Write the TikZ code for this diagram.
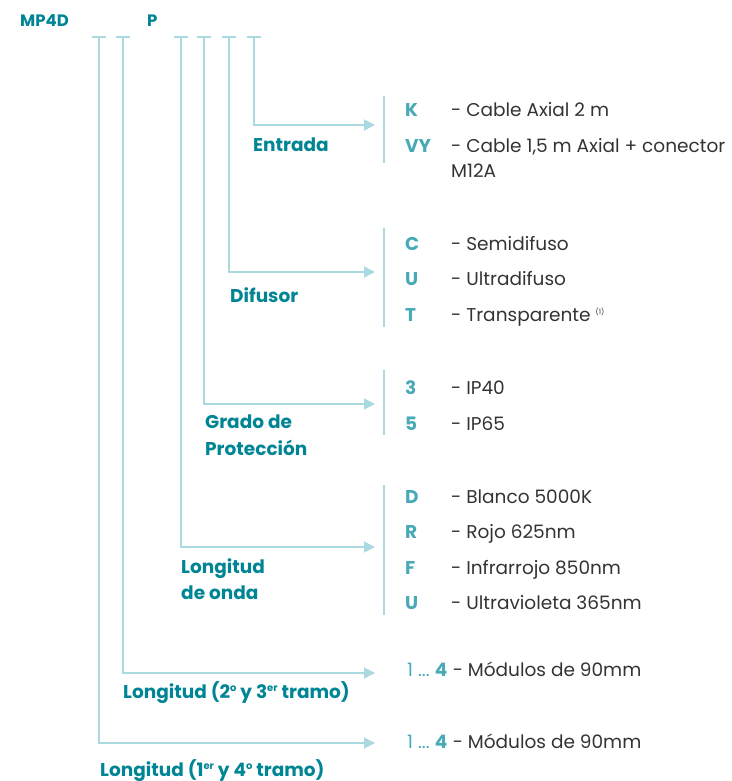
\documentclass[tikz,border=0pt]{standalone}
\usepackage{fontspec}
\setmainfont{Poppins}
\usetikzlibrary{arrows.meta}
\definecolor{codeT}{RGB}{0,133,148}
\definecolor{codeL}{RGB}{72,170,183}
\definecolor{lineB}{RGB}{170,217,224}
\definecolor{txtG}{RGB}{51,51,51}
\newcommand{\supr}[1]{\raisebox{6.5pt}{\fontsize{10}{10}\selectfont #1}}

\begin{document}
\begin{tikzpicture}[x=1pt,y=-1pt,>={Triangle[length=11pt,width=11pt]},
  link/.style={lineB,line width=1.3pt},
  title/.style={codeT,font=\fontsize{16.5}{20}\selectfont\bfseries,anchor=base west,inner sep=0pt},
  head/.style={codeT,font=\fontsize{18.5}{22}\selectfont\bfseries,anchor=base west,inner sep=0pt},
  code/.style={codeL,font=\fontsize{18.5}{22}\selectfont\bfseries,anchor=base west,inner sep=0pt},
  desc/.style={txtG,font=\fontsize{18.5}{22}\selectfont,anchor=base west,inner sep=0pt}]
\useasboundingbox (0,0) rectangle (731,781);
% type code
\node[title] (mp) at (20,27) {MP4D};
\node[title] (pp) at (147,27) {P};
% ticks under the code
\foreach \n/\x in {a/99,b/123,c/181,d/204,e/229,f/254}{
  \coordinate (t\n) at (\x,37);
  \draw[link] (\x-7,37) -- (\x+7,37);
}
% arrow ends
\coordinate (ef) at (375,125);
\coordinate (ee) at (375,272);
\coordinate (ed) at (375,404);
\coordinate (ec) at (375,547);
\coordinate (eb) at (375,673);
\coordinate (ea) at (375,743);
\draw[link,->] (tf) |- (ef);
\draw[link,->] (te) |- (ee);
\draw[link,->] (td) |- (ed);
\draw[link,->] (tc) |- (ec);
\draw[link,->] (tb) |- (eb);
\draw[link,->] (ta) |- (ea);
% group bars
\draw[link] (384,96) -- (384,163);
\draw[link] (384,228) -- (384,327);
\draw[link] (384,370) -- (384,435);
\draw[link] (384,485) -- (384,615);
% field names
\node[head] (entrada) at (253,151) {Entrada};
\node[head] (difusor) at (230,302) {Difusor};
\node[head] (grado) at (205,428) {Grado de};
\node[head] (proteccion) at (205,455) {Protección};
\node[head] (onda) at (181,573) {Longitud};
\node[head] (onda2) at (181,599) {de onda};
\node[head] (long23) at (123,698) {Longitud (2\supr{o} y 3\supr{er} tramo)};
\node[head] (long14) at (100,776) {Longitud (1\supr{er} y 4\supr{o} tramo)};
% Entrada
\node[code] (k) at (405,117) {K};
\node[desc] (kd) at (451,117) {- Cable Axial 2 m};
\node[code] (vy) at (405,152) {VY};
\node[desc] (vyd) at (451,152) {- Cable 1,5 m Axial + conector};
\node[desc] (vyd2) at (451,177) {M12A};
% Difusor
\node[code] (c) at (405,250) {C};
\node[desc] (cd) at (451,250) {- Semidifuso};
\node[code] (u) at (405,285) {U};
\node[desc] (ud) at (451,285) {- Ultradifuso};
\node[code] (t) at (405,321) {T};
\node[desc] (td2) at (451,321) {- Transparente \raisebox{7pt}{\fontsize{7}{7}\selectfont(1)}};
% Grado
\node[code] (ip40) at (405,394) {3};
\node[desc] (ip40d) at (451,394) {- IP40};
\node[code] (ip65) at (405,430) {5};
\node[desc] (ip65d) at (451,430) {- IP65};
% Longitud de onda
\node[code] (d) at (405,503) {D};
\node[desc] (dd) at (451,503) {- Blanco 5000K};
\node[code] (r) at (405,538) {R};
\node[desc] (rd) at (451,538) {- Rojo 625nm};
\node[code] (f) at (405,574) {F};
\node[desc] (fd) at (451,574) {- Infrarrojo 850nm};
\node[code] (uv) at (405,609) {U};
\node[desc] (uvd) at (451,609) {- Ultravioleta 365nm};
% Longitud modules
\node[code] (n23) at (407,676) {{\mdseries 1 ...} 4};
\node[desc,anchor=base west] (n23d) at (n23.base east) {\ - Módulos de 90mm};
\node[code] (n14) at (407,748) {{\mdseries 1 ...} 4};
\node[desc,anchor=base west] (n14d) at (n14.base east) {\ - Módulos de 90mm};
\end{tikzpicture}
\end{document}
